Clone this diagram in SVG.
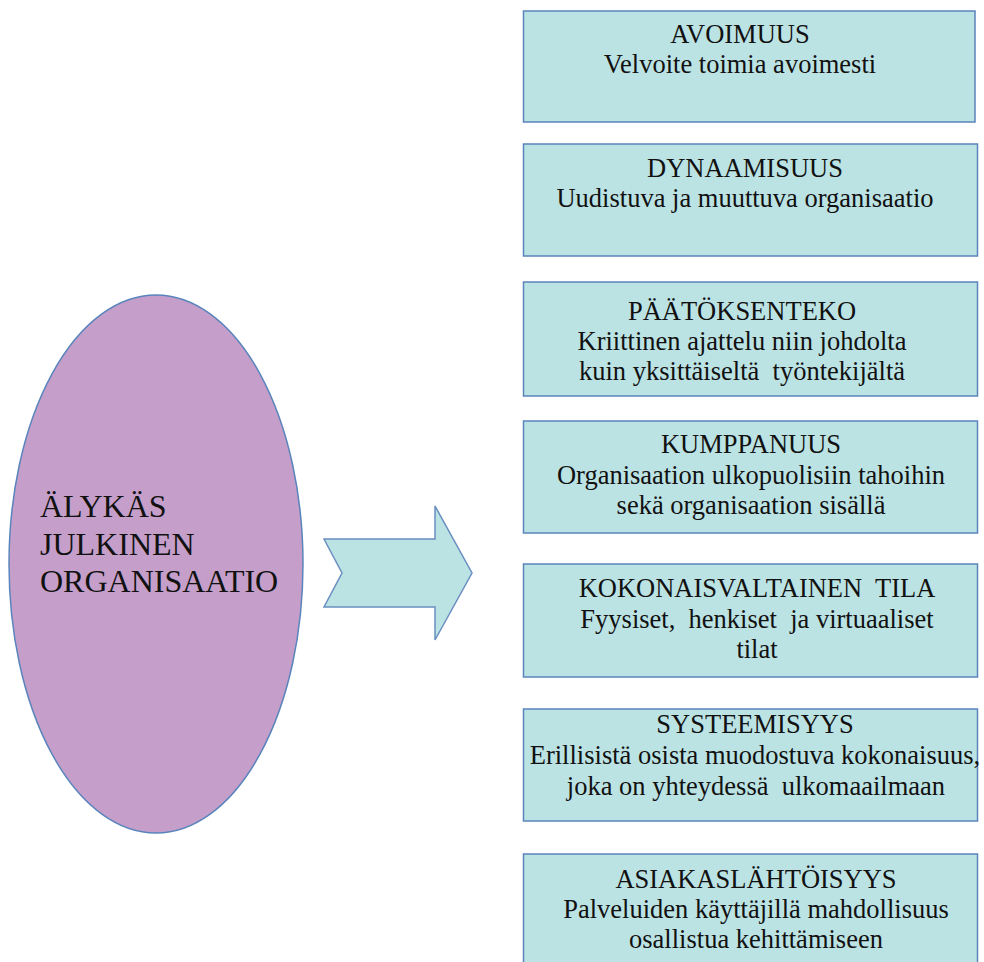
<svg xmlns="http://www.w3.org/2000/svg" width="984" height="962" viewBox="0 0 984 962">
<style>
.box{fill:#BCE3E4;stroke:#5A84BC;stroke-width:1.5}
.t{font-family:'Liberation Serif','Times New Roman','DejaVu Serif',serif;font-size:26.5px;fill:#111;text-anchor:middle;white-space:pre}
.big{font-family:'Liberation Serif','Times New Roman','DejaVu Serif',serif;font-size:32px;fill:#111}
</style>
<rect width="984" height="962" fill="#ffffff"/>
<g id="center-node">
<ellipse cx="156" cy="564" rx="147" ry="269" fill="#C59FCA" stroke="#5A84BC" stroke-width="1.5"/>
<text class="big" x="40" y="517" font-family="Liberation Serif, serif">ÄLYKÄS</text>
<text class="big" x="40" y="555" font-family="Liberation Serif, serif">JULKINEN</text>
<text class="big" x="40" y="592" font-family="Liberation Serif, serif">ORGANISAATIO</text>
</g>
<g id="connectors">
<polygon points="324,539 435,539 435,506 472,573 435,640 435,607 324,607 342,573" fill="#BCE3E4" stroke="#6A8FC0" stroke-width="1.5"/>
</g>
<g id="avoimuus">
<rect class="box" x="523.5" y="11" width="451.5" height="111"/>
<text class="t" x="740" y="43">AVOIMUUS</text>
<text class="t" x="740" y="73">Velvoite toimia avoimesti</text>
</g>
<g id="dynaamisuus">
<rect class="box" x="523.5" y="144" width="454" height="112"/>
<text class="t" x="745" y="177">DYNAAMISUUS</text>
<text class="t" x="745" y="207">Uudistuva ja muuttuva organisaatio</text>
</g>
<g id="paatoksenteko">
<rect class="box" x="523.5" y="282" width="454" height="114"/>
<text class="t" x="742" y="320">PÄÄTÖKSENTEKO</text>
<text class="t" x="742" y="350">Kriittinen ajattelu niin johdolta</text>
<text class="t" x="742" y="380">kuin yksittäiseltä  työntekijältä</text>
</g>
<g id="kumppanuus">
<rect class="box" x="523.5" y="421" width="454" height="112"/>
<text class="t" x="751" y="453">KUMPPANUUS</text>
<text class="t" x="751" y="484">Organisaation ulkopuolisiin tahoihin</text>
<text class="t" x="751" y="514">sekä organisaation sisällä</text>
</g>
<g id="kokonaisvaltainen-tila">
<rect class="box" x="523.5" y="564" width="454" height="113"/>
<text class="t" x="757" y="597">KOKONAISVALTAINEN  TILA</text>
<text class="t" x="757" y="628">Fyysiset,  henkiset  ja virtuaaliset</text>
<text class="t" x="757" y="658">tilat</text>
</g>
<g id="systeemisyys">
<rect class="box" x="523.5" y="709" width="454" height="112"/>
<text class="t" x="755" y="733">SYSTEEMISYYS</text>
<text class="t" x="755" y="764">Erillisistä osista muodostuva kokonaisuus,</text>
<text class="t" x="756" y="795">joka on yhteydessä  ulkomaailmaan</text>
</g>
<g id="asiakaslahtoisyys">
<rect class="box" x="523.5" y="854" width="454" height="130"/>
<text class="t" x="756" y="888">ASIAKASLÄHTÖISYYS</text>
<text class="t" x="756" y="918">Palveluiden käyttäjillä mahdollisuus</text>
<text class="t" x="756" y="948">osallistua kehittämiseen</text>
</g>
</svg>
